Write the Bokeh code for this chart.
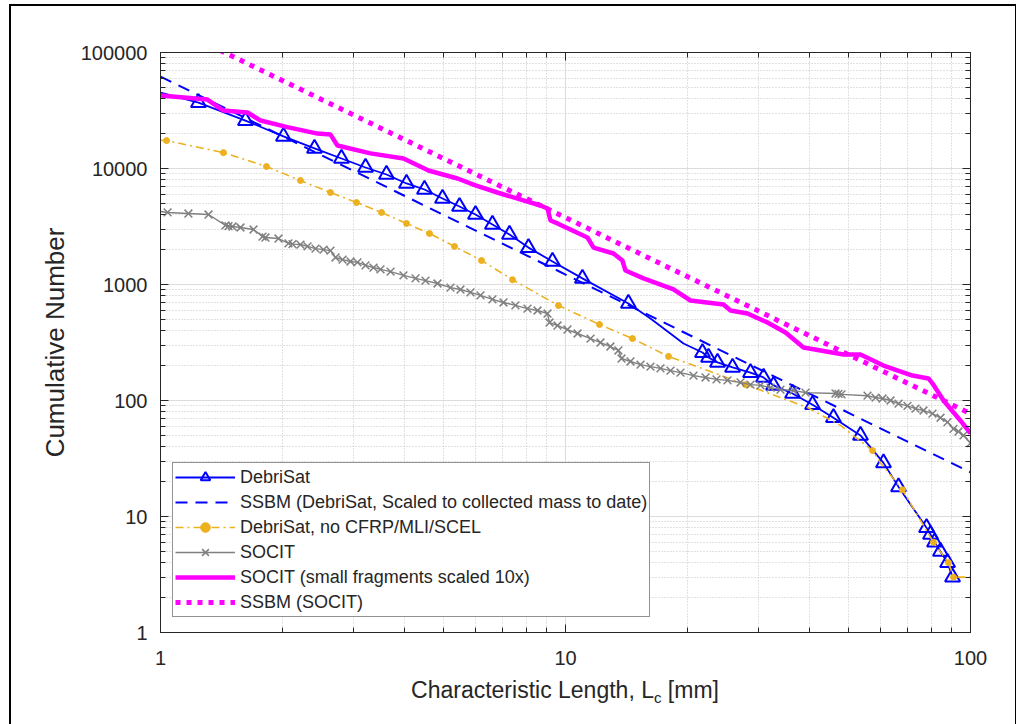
from bokeh.plotting import figure
from bokeh.layouts import column
from bokeh.models import (FixedTicker, LogAxis, Legend, LegendItem, Div,
                          NumeralTickFormatter, CustomJSTickFormatter)
from bokeh.embed import file_html
from bokeh.resources import INLINE

# ---------------- data ----------------
x_ticks = [1, 10, 100]
y_ticks = [1, 10, 100, 1000, 10000, 100000]
x_minor = [m * 10 ** k for k in range(0, 2) for m in range(2, 10)]
y_minor = [m * 10 ** k for k in range(0, 5) for m in range(2, 10)]

# DebriSat (blue solid with triangles)
debrisat_lc = [1.0, 1.241, 1.621, 2.012, 2.400, 2.798, 3.208, 3.614, 4.050, 4.486,
               4.970, 5.474, 5.995, 6.601, 7.273, 8.102, 9.288, 11.01, 14.30, 16.21,
               19.56, 21.79, 22.55, 23.73, 25.85, 28.63, 30.83, 32.63, 36.36, 40.74,
               45.88, 53.5, 60.98, 66.42, 77.88, 79.65, 81.5, 84.3, 87.77, 90.3]
debrisat_n = [45000, 37000, 25900, 18900, 14900, 12200, 10200, 8880, 7430, 6590,
              5510, 4700, 4010, 3290, 2700, 2080, 1580, 1130, 686, 509,
              310, 259, 235, 213, 193, 174, 158, 135, 115, 92,
              71, 50, 29, 18, 8, 7, 6, 5, 4, 3]
debrisat_marker_idx = [i for i in range(len(debrisat_lc)) if i not in (0, 19, 20)]

# SSBM (DebriSat, scaled to collected mass to date) - straight power law
ssbm_debrisat_lc = [1, 100]
ssbm_debrisat_n = [62000, 24]

# DebriSat, no CFRP/MLI/SCEL (orange dash-dot with dots)
orange_lc = [1.0, 1.035, 1.430, 1.827, 2.216, 2.629, 3.048, 3.513, 4.050, 4.616,
             5.320, 6.203, 7.398, 9.609, 12.13, 14.63, 17.96, 22.80, 27.83, 33.95,
             39.58, 47.75, 57.3, 59.95, 67.92, 73.1, 81.0, 88.25, 90.8, 100]
orange_n = [17500, 17400, 13700, 10400, 7880, 6210, 5090, 4180, 3360, 2750,
            2130, 1610, 1100, 659, 452, 342, 240, 178, 137, 106,
            87, 61, 37, 29, 17, 11, 6, 4, 3, 3]
orange_marker_idx = list(range(1, 17)) + [18, 22, 24, 26, 27, 28]

# SOCIT (gray with x markers)
socit_lc = [1.000, 1.041, 1.172, 1.314, 1.447, 1.472, 1.506, 1.576, 1.697, 1.786,
            1.816, 1.956, 2.070, 2.118, 2.216, 2.307, 2.414, 2.526, 2.629, 2.705,
            2.815, 2.945, 3.064, 3.208, 3.357, 3.493, 3.699, 3.981, 4.263, 4.511,
            4.830, 5.200, 5.504, 5.827, 6.168, 6.601, 7.029, 7.523, 8.057, 8.530,
            9.027, 9.131, 9.555, 10.11, 10.71, 11.53, 12.20, 12.91, 13.51, 13.75,
            14.47, 15.32, 16.21, 17.16, 18.17, 19.23, 20.70, 22.17, 23.60, 25.12,
            27.05, 28.63, 30.30, 32.08, 33.95, 36.56, 39.14, 46.42, 47.21, 48.03,
            55.68, 58.27, 60.64, 63.48, 66.42, 69.89, 73.14, 76.55, 80.56, 84.33,
            87.75, 90.78, 93.4, 96.1, 100]
socit_n = [4260, 4180, 4090, 4010, 3230, 3190, 3160, 3100, 2980, 2590,
           2540, 2490, 2260, 2230, 2210, 2130, 2040, 2000, 1960, 1710,
           1640, 1580, 1550, 1460, 1400, 1350, 1290, 1200, 1130, 1080,
           1020, 940, 905, 855, 805, 745, 700, 660, 620, 597,
           562, 470, 443, 409, 378, 342, 316, 292, 270, 230,
           217, 204, 196, 189, 181, 174, 164, 158, 152, 149,
           143, 137, 135, 129, 124, 122, 117, 115, 114, 113,
           110, 106, 104, 100, 94, 90, 85, 82, 77, 71,
           65, 57, 54, 50, 43]
socit_marker_idx = list(range(1, len(socit_lc)))

# SOCIT (small fragments scaled 10x) - thick magenta
socit10_lc = [1.0, 1.306, 1.43, 1.640, 1.766, 2.070, 2.442, 2.629, 2.735, 3.300,
              3.981, 4.588, 5.412, 5.995, 6.91, 8.675, 9.03, 9.18, 9.554, 11.33,
              11.73, 13.14, 13.82, 14.06, 15.58, 18.48, 20.35, 24.55, 25.55, 28.14,
              31.53, 34.93, 38.7, 48.58, 53.5, 60.98, 71.9, 78.77, 80.6, 85.78,
              94.5, 100]
socit10_n = [42600, 39300, 31600, 30400, 25900, 22600, 20000, 19600, 15800, 13500,
             12200, 9610, 8200, 7140, 6090, 4800, 4520, 3560, 3360, 2540,
             2080, 1850, 1610, 1320, 1130, 906, 728, 672, 597, 562,
             470, 386, 286, 249, 249, 200, 164, 155, 140, 100,
             67, 52]

# SSBM (SOCIT) - straight power law
ssbm_socit_lc = [1, 100]
ssbm_socit_n = [185000, 77]

labels = ["DebriSat",
          "SSBM (DebriSat, Scaled to collected mass to date)",
          "DebriSat, no CFRP/MLI/SCEL",
          "SOCIT",
          "SOCIT (small fragments scaled 10x)",
          "SSBM (SOCIT)"]

# ---------------- styling ----------------
FONT = "Liberation Sans"
TXT = "#262626"
BLUE = "#0000FF"
ORANGE = "#EDB120"
GRAY = "#808080"
MAGENTA = "#FF00FF"

p = figure(width=994, height=670, x_axis_type="log", y_axis_type="log",
           x_range=(1, 100), y_range=(1, 100000),
           output_backend="svg", toolbar_location=None,
           min_border_left=149, min_border_right=35,
           min_border_top=46, min_border_bottom=44,
           background_fill_color="white", border_fill_color="white")
p.outline_line_color = TXT
p.outline_line_width = 1

xt = FixedTicker(ticks=x_ticks, minor_ticks=x_minor)
yt = FixedTicker(ticks=y_ticks, minor_ticks=y_minor)

for ax, t in ((p.xaxis[0], xt), (p.yaxis[0], yt)):
    ax.ticker = t
    ax.formatter = NumeralTickFormatter(format="0")
    ax.major_label_text_font = FONT
    ax.major_label_text_font_size = "20px"
    ax.major_label_text_color = TXT
    ax.axis_line_color = TXT
    ax.major_tick_line_color = TXT
    ax.minor_tick_line_color = TXT
    ax.major_tick_in = 8
    ax.major_tick_out = 0
    ax.minor_tick_in = 5
    ax.minor_tick_out = 0
p.xaxis[0].major_label_standoff = 18
p.yaxis[0].major_label_standoff = 13

p.yaxis[0].axis_label = "Cumulative Number"
p.yaxis[0].axis_label_text_font = FONT
p.yaxis[0].axis_label_text_font_size = "26px"
p.yaxis[0].axis_label_text_font_style = "normal"
p.yaxis[0].axis_label_text_color = TXT
p.yaxis[0].axis_label_standoff = 8

for loc, t in (("right", yt), ("above", xt)):
    ax = LogAxis(ticker=t, formatter=CustomJSTickFormatter(code="return ''"),
                 axis_line_color=TXT, major_tick_line_color=TXT,
                 minor_tick_line_color=TXT, major_tick_in=8, major_tick_out=0,
                 minor_tick_in=5, minor_tick_out=0, major_label_standoff=0)
    p.add_layout(ax, loc)

for g, t in ((p.xgrid[0], xt), (p.ygrid[0], yt)):
    g.ticker = t
    g.grid_line_color = "#dcdcdc"
    g.grid_line_width = 1
    g.minor_grid_line_color = "#c4c4c4"
    g.minor_grid_line_dash = "1 2"
    g.minor_grid_line_width = 1

# ---------------- series ----------------
r_deb_line = p.line(debrisat_lc, debrisat_n, line_color=BLUE, line_width=1.8)
r_deb_mark = p.scatter([debrisat_lc[i] for i in debrisat_marker_idx],
                       [debrisat_n[i] for i in debrisat_marker_idx],
                       marker="triangle", size=15, line_color=BLUE,
                       fill_color=None, line_width=2)
r_ssbm_d = p.line(ssbm_debrisat_lc, ssbm_debrisat_n, line_color=BLUE,
                  line_width=2, line_dash="12 8")
r_or_line = p.line(orange_lc, orange_n, line_color=ORANGE, line_width=1.6,
                   line_dash="8 4 2 4")
r_or_mark = p.scatter([orange_lc[i] for i in orange_marker_idx],
                      [orange_n[i] for i in orange_marker_idx],
                      marker="circle", size=6, line_color=ORANGE, fill_color=ORANGE)
r_so_line = p.line(socit_lc, socit_n, line_color=GRAY, line_width=1.4)
r_so_mark = p.scatter([socit_lc[i] for i in socit_marker_idx],
                      [socit_n[i] for i in socit_marker_idx],
                      marker="x", size=11, line_color=GRAY, line_width=1.5)
r_so10 = p.line(socit10_lc, socit10_n, line_color=MAGENTA, line_width=4.5)
r_ssbm_s = p.line(ssbm_socit_lc, ssbm_socit_n, line_color=MAGENTA,
                  line_width=5, line_dash="5 6")

legend = Legend(items=[
    LegendItem(label=labels[0], renderers=[r_deb_line, r_deb_mark]),
    LegendItem(label=labels[1], renderers=[r_ssbm_d]),
    LegendItem(label=labels[2], renderers=[r_or_line, r_or_mark]),
    LegendItem(label=labels[3], renderers=[r_so_line, r_so_mark]),
    LegendItem(label=labels[4], renderers=[r_so10]),
    LegendItem(label=labels[5], renderers=[r_ssbm_s]),
], location=(12, 15))
legend.label_text_font = FONT
legend.label_text_font_size = "18px"
legend.label_text_color = TXT
legend.glyph_width = 60
legend.glyph_height = 24
legend.label_height = 24
legend.spacing = 1
legend.padding = 2
legend.margin = 0
legend.label_standoff = 5
legend.border_line_color = TXT
legend.border_line_width = 1
legend.background_fill_color = "white"
legend.background_fill_alpha = 1
p.add_layout(legend)

# x axis label (with subscript c) as real HTML text under the plot
xlabel_html = (
    '<div style="box-sizing:border-box;width:994px;padding-left:104px;'
    'text-align:center;position:relative;top:-4px;'
    "font-family:'Liberation Sans';font-size:23px;line-height:26px;"
    'color:#262626;white-space:nowrap">Characteristic Length, L'
    '<span style="font-size:15px;position:relative;top:5px">c</span> [mm]</div>'
)
xlabel = Div(text=xlabel_html, width=994, height=44)

layout = column(p, xlabel, spacing=0,
                styles={"margin-left": "9px", "margin-top": "4px",
                        "border-top": "2px solid black",
                        "border-left": "2px solid black",
                        "border-right": "2px solid black"})

open("out.html", "w").write(file_html(layout, INLINE))
